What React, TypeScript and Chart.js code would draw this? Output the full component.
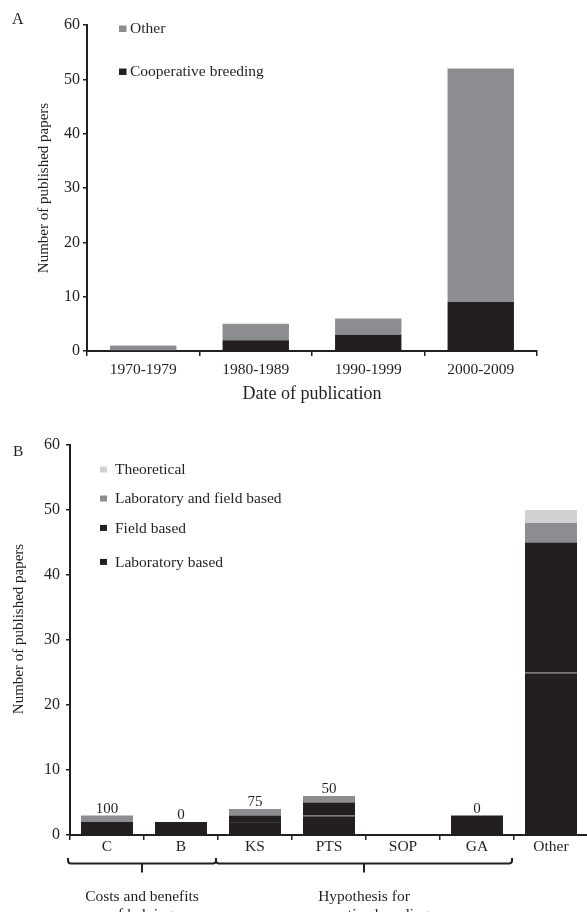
import React, { useEffect, useRef } from "react";
import { Chart, registerables } from "chart.js";
Chart.register(...registerables);

const FONT = '"Liberation Serif", "Times New Roman", serif';
const INK = "#231f20";
const GRAY = "#8c8d90";
const LIGHT = "#d0d1d3";

// Panel A data
const decades = ["1970-1979", "1980-1989", "1990-1999", "2000-2009"];
const coopBreeding = [0, 2, 3, 9];
const otherTopics = [1, 3, 3, 43];

// Panel B data
const hypotheses = ["C", "B", "KS", "PTS", "SOP", "GA", "Other"];
const labBased = [0, 0, 2, 3, 0, 0, 25];
const fieldBased = [2, 2, 1, 2, 0, 3, 20];
const labAndField = [1, 0, 1, 1, 0, 0, 3];
const theoretical = [0, 0, 0, 0, 0, 0, 2];
const barNotes = ["100", "0", "75", "50", "", "0", ""];
const groupNames = [
  ["Costs and benefits", "of helping"],
  ["Hypothesis for", "cooperative breeding"],
];
const groupStart = [0, 2];
const groupEnd = [1, 5];

function makeOverlay(o: any) {
  return {
    id: "overlay" + o.letter,
    afterDraw(chart: any) {
      const ctx = chart.ctx;
      ctx.save();
      ctx.fillStyle = INK;
      ctx.textAlign = "left";
      ctx.textBaseline = "alphabetic";
      ctx.font = `${o.letterSize}px ${FONT}`;
      ctx.fillText(o.letter, o.letterX, o.letterY);
      const ds = chart.data.datasets.slice().reverse();
      ctx.font = `${o.legendSize}px ${FONT}`;
      ds.forEach((d: any, i: number) => {
        const y = o.rows[i];
        ctx.fillStyle = d.backgroundColor;
        ctx.fillRect(o.boxX, y - o.boxLift, o.boxW, o.boxH);
        ctx.fillStyle = INK;
        ctx.fillText(d.label, o.textX, y);
      });
      if (o.yTitle) {
        ctx.save();
        ctx.translate(o.yTitle.x, o.yTitle.y);
        ctx.rotate(-Math.PI / 2);
        ctx.textAlign = "center";
        ctx.textBaseline = "middle";
        ctx.font = `${o.yTitle.size}px ${FONT}`;
        ctx.fillStyle = INK;
        ctx.fillText(o.yTitle.text, 0, 0);
        ctx.restore();
      }
      ctx.restore();
    },
  };
}

const notesPlugin = {
  id: "notes",
  afterDatasetsDraw(chart: any) {
    const ctx = chart.ctx;
    const n = chart.data.datasets.length;
    const topMeta = chart.getDatasetMeta(n - 1);
    ctx.save();
    ctx.fillStyle = INK;
    ctx.font = `15px ${FONT}`;
    ctx.textAlign = "center";
    ctx.textBaseline = "alphabetic";
    barNotes.forEach((t, i) => {
      if (!t) return;
      const el = topMeta.data[i];
      ctx.fillText(t, el.x, el.y - 3);
    });
    ctx.restore();
  },
};

const bracketPlugin = {
  id: "brackets",
  afterDraw(chart: any) {
    const ctx = chart.ctx;
    const xs = chart.scales.x;
    const half = (xs.getPixelForValue(1) - xs.getPixelForValue(0)) / 2;
    const yTop = 438;
    const yLine = 443.5;
    const yTick = 452.5;
    const r = 3;
    ctx.save();
    ctx.strokeStyle = INK;
    ctx.lineWidth = 2;
    ctx.fillStyle = INK;
    ctx.font = `15.5px ${FONT}`;
    ctx.textAlign = "center";
    ctx.textBaseline = "alphabetic";
    groupNames.forEach((lines, g) => {
      const x0 = xs.getPixelForValue(groupStart[g]) - half - 2;
      const x1 = xs.getPixelForValue(groupEnd[g]) + half - 2;
      const cx = (x0 + x1) / 2;
      ctx.beginPath();
      ctx.moveTo(x0, yTop);
      ctx.lineTo(x0, yLine - r);
      ctx.arcTo(x0, yLine, x0 + r, yLine, r);
      ctx.lineTo(x1 - r, yLine);
      ctx.arcTo(x1, yLine, x1, yLine - r, r);
      ctx.lineTo(x1, yTop);
      ctx.moveTo(cx, yLine);
      ctx.lineTo(cx, yTick);
      ctx.stroke();
      lines.forEach((l, k) => ctx.fillText(l, cx, 481 + k * 18));
    });
    ctx.restore();
  },
};

const axisCommon = (size: number) => ({
  color: INK,
  font: { family: FONT, size },
});

export default function App() {
  const refA = useRef<HTMLCanvasElement>(null);
  const refB = useRef<HTMLCanvasElement>(null);

  useEffect(() => {
    const a = new Chart(refA.current!, {
      type: "bar",
      data: {
        labels: decades,
        datasets: [
          { label: "Cooperative breeding", data: coopBreeding, backgroundColor: INK },
          { label: "Other", data: otherTopics, backgroundColor: GRAY },
        ],
      },
      options: {
        responsive: false,
        animation: false,
        layout: { padding: { left: 0, top: 25, right: 50, bottom: 0 } },
        datasets: { bar: { categoryPercentage: 1, barPercentage: 0.59 } },
        plugins: { legend: { display: false }, tooltip: { enabled: false } },
        scales: {
          x: {
            stacked: true,
            offset: true,
            grid: { offset: true, drawOnChartArea: false, tickLength: 5, color: INK, lineWidth: 1.5 },
            border: { color: INK, width: 2 },
            ticks: { ...axisCommon(15.5), padding: 4.5, maxRotation: 0, autoSkip: false },
            title: {
              display: true,
              text: "Date of publication",
              color: INK,
              font: { family: FONT, size: 18 },
              padding: { top: 0, bottom: 5 },
            },
            afterFit: (s: any) => {
              s.height = 59;
            },
          },
          y: {
            stacked: true,
            min: 0,
            max: 60,
            ticks: { ...axisCommon(16), stepSize: 10, padding: 3 },
            grid: { drawOnChartArea: false, tickLength: 4, color: INK, lineWidth: 1.5 },
            border: { color: INK, width: 2 },
            title: {
              display: true,
              text: "Number of published papers",
              color: INK,
              font: { family: FONT, size: 15 },
              padding: { top: 35, bottom: 0 },
            },
            afterFit: (s: any) => {
              s.width = 87;
            },
          },
        },
      } as any,
      plugins: [
        makeOverlay({
          letter: "A",
          letterSize: 16,
          letterX: 12,
          letterY: 24,
          legendSize: 15.5,
          rows: [33, 76],
          boxX: 119,
          boxLift: 7.5,
          boxW: 7.5,
          boxH: 6.5,
          textX: 130,
        }),
      ],
    });

    const b = new Chart(refB.current!, {
      type: "bar",
      data: {
        labels: hypotheses,
        datasets: [
          {
            label: "Laboratory based",
            data: labBased,
            backgroundColor: INK,
            borderColor: "#3d3a3b",
            borderWidth: { top: 1, right: 0, bottom: 0, left: 0 },
          },
          { label: "Field based", data: fieldBased, backgroundColor: INK },
          { label: "Laboratory and field based", data: labAndField, backgroundColor: GRAY },
          { label: "Theoretical", data: theoretical, backgroundColor: LIGHT },
        ],
      },
      options: {
        responsive: false,
        animation: false,
        layout: { padding: { left: 0, top: 25, right: 12, bottom: 0 } },
        datasets: { bar: { categoryPercentage: 1, barPercentage: 0.703 } },
        plugins: { legend: { display: false }, tooltip: { enabled: false } },
        scales: {
          x: {
            stacked: true,
            offset: true,
            grid: { offset: true, drawOnChartArea: false, tickLength: 5, color: INK, lineWidth: 1.5 },
            border: { color: INK, width: 2 },
            ticks: { ...axisCommon(15.5), padding: -2, maxRotation: 0, autoSkip: false },
            afterFit: (s: any) => {
              s.height = 77;
            },
          },
          y: {
            stacked: true,
            min: 0,
            max: 60,
            ticks: { ...axisCommon(16), stepSize: 10, padding: 6 },
            grid: { drawOnChartArea: false, tickLength: 4, color: INK, lineWidth: 1.5 },
            border: { color: INK, width: 2 },
            afterFit: (s: any) => {
              s.width = 70;
            },
          },
        },
      } as any,
      plugins: [
        notesPlugin,
        bracketPlugin,
        makeOverlay({
          letter: "B",
          letterSize: 15.5,
          letterX: 13,
          letterY: 36,
          legendSize: 15.5,
          rows: [54.3, 83.3, 112.7, 146.7],
          boxX: 100,
          boxLift: 7.8,
          boxW: 7,
          boxH: 6,
          textX: 115,
          yTitle: { text: "Number of published papers", x: 19, y: 209, size: 15 },
        }),
      ],
    });

    return () => {
      a.destroy();
      b.destroy();
    };
  }, []);

  return (
    <div
      style={{
        position: "absolute",
        left: 0,
        top: 0,
        width: 587,
        height: 912,
        overflow: "hidden",
        background: "#fff",
      }}
    >
      <canvas
        ref={refA}
        width={587}
        height={410}
        style={{ position: "absolute", left: 0, top: 0, width: 587, height: 410 }}
      />
      <canvas
        ref={refB}
        width={600}
        height={492}
        style={{ position: "absolute", left: 0, top: 420, width: 600, height: 492 }}
      />
    </div>
  );
}
